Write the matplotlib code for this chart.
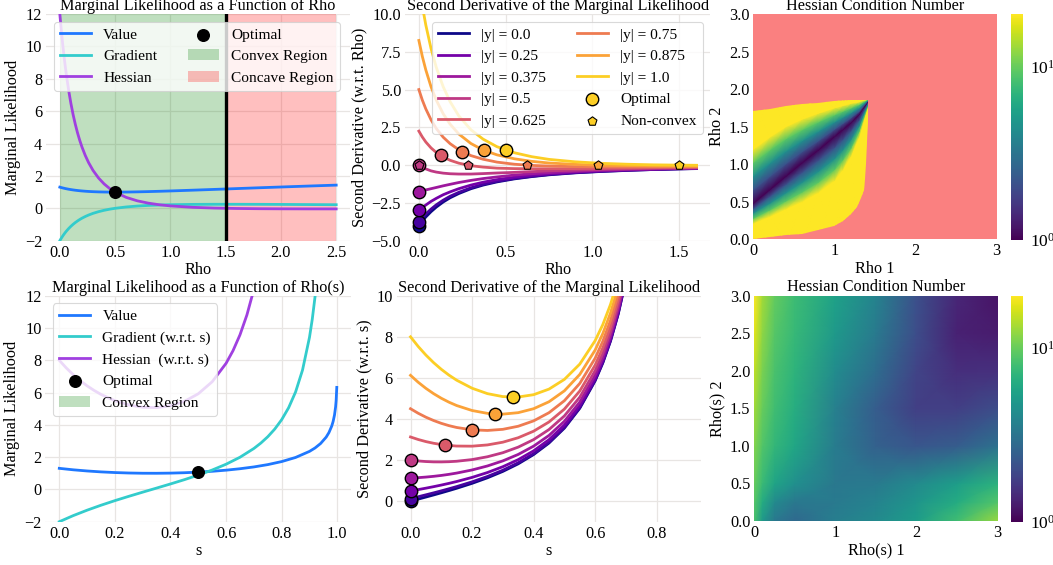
import numpy as np
import matplotlib
matplotlib.use('Agg')
import matplotlib.pyplot as plt
from matplotlib.colors import LogNorm
from matplotlib.patches import Patch, Polygon
from matplotlib.ticker import NullLocator

FS = 11.7
LFS = 11.1
plt.rcParams['font.family'] = ['Liberation Serif', 'DejaVu Serif']
plt.rcParams['font.size'] = FS
plt.rcParams['mathtext.fontset'] = 'stix'

# ---------------- data: top-left (marginal likelihood vs rho, |y| = 1) ----------------
rho_tl = [0, 0.01, 0.02, 0.03, 0.04, 0.05, 0.06, 0.08, 0.1, 0.12, 0.14, 0.16, 0.18, 0.2, 0.23,
          0.26, 0.3, 0.35, 0.4, 0.45, 0.5, 0.6, 0.7, 0.8, 0.9, 1.0, 1.2, 1.4, 1.6, 1.8, 2.0, 2.25, 2.5]
value_tl = [1.307, 1.287, 1.269, 1.252, 1.236, 1.22, 1.206, 1.179, 1.156, 1.135, 1.116, 1.1, 1.085,
            1.072, 1.055, 1.041, 1.027, 1.014, 1.006, 1.001, 1, 1.004, 1.016, 1.032, 1.051, 1.072,
            1.119, 1.168, 1.218, 1.268, 1.316, 1.375, 1.432]
grad_tl = [-2, -1.884, -1.775, -1.673, -1.578, -1.488, -1.403, -1.249, -1.111, -0.989, -0.879,
           -0.781, -0.692, -0.612, -0.507, -0.416, -0.312, -0.208, -0.123, -0.055, 0, 0.083, 0.139,
           0.178, 0.204, 0.222, 0.242, 0.249, 0.249, 0.246, 0.24, 0.231, 0.222]
hess_tl = [12, 11.232, 10.526, 9.874, 9.272, 8.715, 8.2, 7.278, 6.481, 5.79, 5.188, 4.661, 4.198,
           3.79, 3.265, 2.825, 2.344, 1.873, 1.509, 1.225, 1, 0.676, 0.463, 0.319, 0.219, 0.148,
           0.061, 0.015, -0.011, -0.025, -0.032, -0.036, -0.037]
opt_tl = (0.5, 1.0)
convex_tl = (0.0, 1.5)
concave_tl = (1.5, 2.5)
boundary_tl = 1.5

# ---------------- data: top-middle (second derivative wrt rho for several |y|) ----------------
abs_y = [0.0, 0.125, 0.25, 0.375, 0.5, 0.625, 0.75, 0.875, 1.0]
show_label = [True, False, True, True, True, True, True, True, True]
rho_tm = [0, 0.02, 0.04, 0.07, 0.1, 0.14, 0.18, 0.23, 0.3, 0.37, 0.45, 0.55, 0.65, 0.75, 0.9,
          1.05, 1.2, 1.35, 1.5, 1.6]
hess_tm = [
    [-4, -3.7, -3.43, -3.08, -2.78, -2.44, -2.16, -1.88, -1.56, -1.32, -1.11, -0.91, -0.76, -0.64, -0.51, -0.42, -0.35, -0.29, -0.25, -0.23],
    [-3.75, -3.48, -3.23, -2.91, -2.63, -2.32, -2.06, -1.8, -1.5, -1.27, -1.07, -0.88, -0.74, -0.62, -0.5, -0.41, -0.34, -0.29, -0.25, -0.22],
    [-3, -2.81, -2.64, -2.4, -2.2, -1.96, -1.77, -1.56, -1.32, -1.13, -0.96, -0.8, -0.67, -0.58, -0.46, -0.38, -0.32, -0.27, -0.23, -0.21],
    [-1.75, -1.7, -1.64, -1.56, -1.48, -1.37, -1.27, -1.15, -1.01, -0.89, -0.78, -0.66, -0.57, -0.5, -0.41, -0.34, -0.29, -0.25, -0.21, -0.2],
    [0, -0.14, -0.25, -0.38, -0.46, -0.53, -0.57, -0.59, -0.59, -0.56, -0.52, -0.48, -0.43, -0.38, -0.33, -0.28, -0.24, -0.21, -0.19, -0.17],
    [2.25, 1.86, 1.53, 1.14, 0.84, 0.54, 0.32, 0.13, -0.04, -0.13, -0.2, -0.23, -0.24, -0.24, -0.23, -0.21, -0.19, -0.17, -0.15, -0.14],
    [5, 4.3, 3.72, 3, 2.43, 1.85, 1.42, 1.02, 0.63, 0.39, 0.2, 0.06, -0.02, -0.06, -0.1, -0.11, -0.12, -0.11, -0.11, -0.11],
    [8.25, 7.19, 6.3, 5.19, 4.31, 3.4, 2.71, 2.06, 1.43, 1, 0.68, 0.42, 0.25, 0.14, 0.05, -0.01, -0.03, -0.05, -0.06, -0.06],
    [12, 10.53, 9.27, 7.72, 6.48, 5.19, 4.2, 3.26, 2.34, 1.72, 1.22, 0.82, 0.56, 0.38, 0.22, 0.12, 0.06, 0.02, 0, -0.01],
]
opt_rho_tm = [0, 0, 0, 0, 0, 0.125, 0.25, 0.375, 0.5]
opt_val_tm = [-4, -3.75, -3, -1.75, 0, 0.64, 0.889, 0.98, 1.0]
nonconvex_rho_tm = [None, None, None, None, 0.0, 0.281, 0.625, 1.031, 1.5]
nonconvex_val_tm = [None, None, None, None, 0, 0, 0, 0, 0]

# ---------------- data: top-right (Hessian condition number, log10 levels) ----------------
# columns of Rho 1, and for each log10(condition number) level the Rho 2 where it is reached
tr_cols = [0.0, 0.2, 0.4, 0.6, 0.8, 1.0, 1.1, 1.2, 1.3, 1.42]
tr_levels = [1.5, 1.3, 0.975, 0.65, 0.325, 0.0, 0.325, 0.65, 0.975, 1.3, 1.5]
tr_level_y = [
    [-0.05, -0.05, -0.05, -0.05, -0.05, -0.05, -0.05, -0.05, -0.05, -0.05],
    [0.21, 0.30, 0.40, 0.50, 0.62, 0.78, 0.92, 1.10, 1.35, 1.80],
    [0.28, 0.39, 0.51, 0.63, 0.76, 0.93, 1.055, 1.21, 1.43, 1.81],
    [0.35, 0.48, 0.62, 0.76, 0.905, 1.075, 1.19, 1.325, 1.505, 1.825],
    [0.41, 0.57, 0.73, 0.89, 1.05, 1.22, 1.325, 1.44, 1.58, 1.84],
    [0.48, 0.66, 0.84, 1.02, 1.19, 1.37, 1.46, 1.55, 1.66, 1.85],
    [0.66, 0.835, 1.005, 1.165, 1.31, 1.465, 1.54, 1.615, 1.70, 1.855],
    [0.84, 1.01, 1.17, 1.31, 1.435, 1.56, 1.62, 1.68, 1.745, 1.86],
    [1.02, 1.185, 1.335, 1.455, 1.56, 1.655, 1.70, 1.745, 1.79, 1.865],
    [1.20, 1.36, 1.50, 1.60, 1.68, 1.75, 1.78, 1.81, 1.83, 1.87],
    [1.95, 1.95, 1.95, 1.95, 1.95, 1.95, 1.95, 1.95, 1.95, 1.95],
]
# outline of the region where the Hessian is positive definite
pd_x = [0.0, 0.2, 0.4, 0.6, 0.8, 0.9, 1.0, 1.1, 1.2, 1.28, 1.33, 1.36, 1.38, 1.395, 1.40, 1.41,
        1.415, 1.41, 1.3, 1.2, 1.0, 0.8, 0.6, 0.4, 0.2, 0.0]
pd_y = [0.01, 0.03, 0.06, 0.07, 0.12, 0.15, 0.18, 0.24, 0.33, 0.43, 0.55, 0.65, 0.80, 1.0, 1.3,
        1.6, 1.78, 1.855, 1.855, 1.85, 1.84, 1.82, 1.80, 1.77, 1.74, 1.71]

# ---------------- data: bottom-left (marginal likelihood vs s) ----------------
s_value_bl = [0, 0.05, 0.1, 0.15, 0.2, 0.25, 0.3, 0.35, 0.4, 0.45, 0.5, 0.55, 0.6, 0.65, 0.7, 0.75,
              0.8, 0.85, 0.9, 0.92, 0.94, 0.96, 0.97, 0.98, 0.985, 0.99, 0.994, 0.996, 0.9982]
value_bl = [1.307, 1.216, 1.144, 1.087, 1.046, 1.018, 1.003, 1.001, 1.011, 1.035, 1.072, 1.124,
            1.193, 1.282, 1.394, 1.538, 1.726, 1.981, 2.357, 2.568, 2.845, 3.239, 3.522, 3.922,
            4.207, 4.61, 5.119, 5.523, 6.321]
s_grad_bl = [0, 0.05, 0.1, 0.15, 0.2, 0.25, 0.3, 0.35, 0.4, 0.45, 0.5, 0.55, 0.6, 0.65, 0.7, 0.725,
             0.75, 0.775, 0.8, 0.825, 0.85, 0.875, 0.9, 0.91, 0.92, 0.93, 0.94]
grad_bl = [-2, -1.623, -1.286, -0.979, -0.694, -0.427, -0.169, 0.084, 0.34, 0.605, 0.889, 1.202,
           1.562, 1.994, 2.537, 2.872, 3.265, 3.738, 4.321, 5.061, 6.038, 7.396, 9.418, 10.538,
           11.936, 13.73, 16.119]
s_hess_bl = [0, 0.025, 0.05, 0.075, 0.1, 0.125, 0.15, 0.2, 0.25, 0.3, 0.35, 0.4, 0.45, 0.5, 0.55,
             0.6, 0.625, 0.65, 0.675, 0.7, 0.725, 0.75]
hess_bl = [8, 7.529, 7.112, 6.743, 6.419, 6.135, 5.888, 5.498, 5.234, 5.09, 5.07, 5.183, 5.454,
           5.926, 6.67, 7.813, 8.597, 9.577, 10.813, 12.393, 14.446, 17.166]
opt_bl = (0.5, 1.072)

# ---------------- data: bottom-middle (second derivative wrt s) ----------------
s_bm = [0, 0.025, 0.05, 0.075, 0.1, 0.125, 0.15, 0.2, 0.25, 0.3, 0.35, 0.4, 0.45, 0.5, 0.55, 0.6,
        0.625, 0.65, 0.675, 0.7, 0.725, 0.75]
hess_bm = [
    [0, 0.1, 0.201, 0.303, 0.408, 0.516, 0.628, 0.868, 1.138, 1.449, 1.818, 2.268, 2.83, 3.556, 4.522, 5.859, 6.732, 7.796, 9.111, 10.765, 12.887, 15.673],
    [0.125, 0.216, 0.309, 0.404, 0.502, 0.604, 0.71, 0.94, 1.202, 1.506, 1.869, 2.313, 2.871, 3.593, 4.556, 5.89, 6.762, 7.824, 9.138, 10.791, 12.911, 15.697],
    [0.5, 0.564, 0.633, 0.706, 0.784, 0.867, 0.957, 1.157, 1.394, 1.677, 2.021, 2.45, 2.994, 3.704, 4.656, 5.981, 6.849, 7.907, 9.217, 10.867, 12.984, 15.767],
    [1.125, 1.145, 1.173, 1.209, 1.253, 1.306, 1.368, 1.519, 1.714, 1.961, 2.275, 2.678, 3.199, 3.889, 4.824, 6.134, 6.995, 8.046, 9.35, 10.994, 13.106, 15.883],
    [2, 1.957, 1.929, 1.913, 1.911, 1.921, 1.943, 2.025, 2.162, 2.359, 2.631, 2.996, 3.486, 4.148, 5.059, 6.348, 7.199, 8.241, 9.537, 11.172, 13.277, 16.047],
    [3.125, 3.002, 2.9, 2.819, 2.756, 2.711, 2.683, 2.677, 2.738, 2.871, 3.088, 3.406, 3.855, 4.481, 5.361, 6.622, 7.461, 8.492, 9.776, 11.401, 13.496, 16.257],
    [4.5, 4.279, 4.088, 3.926, 3.789, 3.676, 3.587, 3.472, 3.442, 3.497, 3.647, 3.908, 4.306, 4.889, 5.73, 6.958, 7.781, 8.798, 10.069, 11.681, 13.764, 16.513],
    [6.125, 5.788, 5.492, 5.234, 5.01, 4.818, 4.655, 4.413, 4.274, 4.237, 4.308, 4.5, 4.839, 5.37, 6.167, 7.355, 8.16, 9.159, 10.414, 12.012, 14.08, 16.816],
    [8, 7.529, 7.112, 6.743, 6.419, 6.135, 5.888, 5.498, 5.234, 5.09, 5.07, 5.183, 5.454, 5.926, 6.67, 7.813, 8.597, 9.577, 10.813, 12.393, 14.446, 17.166],
]
opt_s_bm = [0, 0, 0, 0, 0, 0.111, 0.2, 0.273, 0.333]
opt_val_bm = [0, 0.125, 0.5, 1.125, 2, 2.734, 3.472, 4.244, 5.062]

# ---------------- data: bottom-right (Hessian condition number wrt s, log10) ----------------
br_x = [0.0, 0.1, 0.25, 0.5, 1.0, 1.5, 2.0, 2.5, 3.0]
br_y = [0.0, 0.25, 0.5, 1.0, 1.5, 2.0, 2.5, 3.0]
br_log_cond = [
    [0.92, 0.70, 0.52, 0.44, 0.55, 0.62, 0.72, 0.90, 1.10],
    [0.96, 0.80, 0.62, 0.52, 0.53, 0.58, 0.68, 0.80, 0.95],
    [1.00, 0.88, 0.76, 0.65, 0.52, 0.53, 0.62, 0.72, 0.83],
    [1.06, 0.95, 0.86, 0.77, 0.54, 0.40, 0.35, 0.38, 0.48],
    [1.12, 1.00, 0.90, 0.81, 0.56, 0.38, 0.24, 0.24, 0.30],
    [1.18, 1.04, 0.93, 0.84, 0.63, 0.46, 0.26, 0.17, 0.18],
    [1.25, 1.08, 0.96, 0.87, 0.70, 0.53, 0.30, 0.12, 0.10],
    [1.30, 1.12, 0.99, 0.89, 0.74, 0.58, 0.32, 0.14, 0.07],
]

# ---------------- style ----------------
C_VALUE = '#1f78ff'
C_GRAD = '#33cccc'
C_HESS = '#a040e0'
GRID = '#e8e5e3'
PINK = '#fa8080'
TOP_PAD = 0.3
BOT_PAD = 3
cmap_lines = plt.get_cmap('plasma')


def style(ax, grid=True):
    for sp in ax.spines.values():
        sp.set_visible(False)
    ax.tick_params(length=0, labelsize=FS, pad=2.8)
    if grid:
        ax.grid(True, color=GRID, lw=0.9)
        ax.set_axisbelow(True)


def legend(ax, handles, **kw):
    lg = ax.legend(handles=handles, fontsize=LFS, framealpha=0.8, edgecolor='#d0d0d0', **kw)
    lg.get_frame().set_linewidth(0.8)
    return lg


def colorbar(fig, mappable, rect):
    cax = fig.add_axes(rect)
    cb = fig.colorbar(mappable, cax=cax)
    cb.outline.set_visible(False)
    cax.tick_params(length=0, labelsize=12.5, pad=5)
    cax.yaxis.set_minor_locator(NullLocator())
    return cb


fig = plt.figure(figsize=(10.53, 5.65), dpi=100)

# ---- top-left ----
ax = fig.add_axes([0.0437, 0.574, 0.2887, 0.4012])
style(ax)
sp1 = ax.axvspan(*convex_tl, color='green', alpha=0.25, lw=0, label='Convex Region')
sp2 = ax.axvspan(*concave_tl, color='red', alpha=0.25, lw=0, label='Concave Region')
l1, = ax.plot(rho_tl, value_tl, color=C_VALUE, lw=2, label='Value')
l2, = ax.plot(rho_tl, grad_tl, color=C_GRAD, lw=2, label='Gradient')
l3, = ax.plot(rho_tl, hess_tl, color=C_HESS, lw=2, label='Hessian')
ax.axvline(boundary_tl, color='black', lw=2.4)
so = ax.scatter([opt_tl[0]], [opt_tl[1]], s=70, color='black', zorder=4, label='Optimal')
ax.set_xlim(-0.125, 2.625)
ax.set_ylim(-2, 12)
ax.set_yticks([-2, 0, 2, 4, 6, 8, 10, 12])
ax.set_xticks([0.0, 0.5, 1.0, 1.5, 2.0, 2.5])
ax.set_xlabel('Rho', labelpad=1)
ax.set_ylabel('Marginal Likelihood', labelpad=3)
ax.set_title('Marginal Likelihood as a Function of Rho', fontsize=FS, pad=TOP_PAD)
legend(ax, [l1, l2, l3, so, sp1, sp2], ncol=2, loc='upper left')

# ---- top-middle ----
ax = fig.add_axes([0.3846, 0.574, 0.2901, 0.4012])
style(ax)
line_handles = []
opt_h = None
nc_h = None
for k, y in enumerate(abs_y):
    col = cmap_lines(0.9 * y)
    ln, = ax.plot(rho_tm, hess_tm[k], color=col, lw=2, label='|y| = %s' % y)
    if show_label[k]:
        line_handles.append(ln)
    opt_h = ax.scatter([opt_rho_tm[k]], [opt_val_tm[k]], s=80, color=col, edgecolor='black',
                       linewidth=1, zorder=3, label='Optimal')
    if nonconvex_rho_tm[k] is not None:
        nc_h = ax.scatter([nonconvex_rho_tm[k]], [nonconvex_val_tm[k]], s=45, marker='p',
                          color=col, edgecolor='black', linewidth=0.8, zorder=3,
                          label='Non-convex')
ax.set_xlim(-0.08, 1.68)
ax.set_ylim(-5, 10)
ax.set_yticks([-5, -2.5, 0, 2.5, 5, 7.5, 10])
ax.set_xticks([0.0, 0.5, 1.0, 1.5])
ax.set_xlabel('Rho', labelpad=1)
ax.set_ylabel('Second Derivative (w.r.t. Rho)', labelpad=3)
ax.set_title('Second Derivative of the Marginal Likelihood', fontsize=FS, pad=TOP_PAD)
legend(ax, line_handles + [opt_h, nc_h], ncol=2, loc='upper right')

# ---- top-right ----
ax = fig.add_axes([0.7154, 0.5765, 0.2311, 0.3988])
style(ax, grid=False)
ax.set_facecolor(PINK)
X = np.array([tr_cols for _ in tr_levels])
Y = np.array(tr_level_y)
C = np.array([[10.0 ** lv] * len(tr_cols) for lv in tr_levels])
qm = ax.pcolormesh(X, Y, C, shading='gouraud', cmap='viridis', norm=LogNorm(vmin=1, vmax=20))
clip = Polygon(np.column_stack([pd_x, pd_y]), closed=True, transform=ax.transData)
qm.set_clip_path(clip)
ax.set_xlim(0, 3)
ax.set_ylim(0, 3)
ax.set_xticks([0, 1, 2, 3])
ax.set_yticks([0.0, 0.5, 1.0, 1.5, 2.0, 2.5, 3.0])
ax.set_xlabel('Rho 1', labelpad=1)
ax.set_ylabel('Rho 2', labelpad=3)
ax.set_title('Hessian Condition Number', fontsize=FS, pad=TOP_PAD)
colorbar(fig, qm, [0.9601, 0.5752, 0.0111, 0.4])

# ---- bottom-left ----
ax = fig.add_axes([0.0431, 0.0766, 0.2904, 0.4])
style(ax)
l1, = ax.plot(s_value_bl, value_bl, color=C_VALUE, lw=2, label='Value')
l2, = ax.plot(s_grad_bl, grad_bl, color=C_GRAD, lw=2, label='Gradient (w.r.t. s)')
l3, = ax.plot(s_hess_bl, hess_bl, color=C_HESS, lw=2, label='Hessian  (w.r.t. s)')
so = ax.scatter([opt_bl[0]], [opt_bl[1]], s=70, color='black', zorder=4, label='Optimal')
conv = Patch(facecolor='green', alpha=0.25, label='Convex Region')
ax.set_xlim(-0.05, 1.05)
ax.set_ylim(-2, 12)
ax.set_yticks([-2, 0, 2, 4, 6, 8, 10, 12])
ax.set_xticks([0.0, 0.2, 0.4, 0.6, 0.8, 1.0])
ax.set_xlabel('s', labelpad=1)
ax.set_ylabel('Marginal Likelihood', labelpad=3)
ax.set_title('Marginal Likelihood as a Function of Rho(s)', fontsize=FS, pad=BOT_PAD)
legend(ax, [l1, l2, l3, so, conv], loc='upper left')

# ---- bottom-middle ----
ax = fig.add_axes([0.3767, 0.0766, 0.2893, 0.4])
style(ax)
for k, y in enumerate(abs_y):
    col = cmap_lines(0.9 * y)
    ax.plot(s_bm, hess_bm[k], color=col, lw=2)
    ax.scatter([opt_s_bm[k]], [opt_val_bm[k]], s=80, color=col, edgecolor='black',
               linewidth=1, zorder=3)
ax.set_xlim(-0.045, 0.945)
ax.set_ylim(-1, 10)
ax.set_yticks([0, 2, 4, 6, 8, 10])
ax.set_xticks([0.0, 0.2, 0.4, 0.6, 0.8])
ax.set_xlabel('s', labelpad=1)
ax.set_ylabel('Second Derivative (w.r.t. s)', labelpad=3)
ax.set_title('Second Derivative of the Marginal Likelihood', fontsize=FS, pad=BOT_PAD)

# ---- bottom-right ----
ax = fig.add_axes([0.7163, 0.0779, 0.2311, 0.3988])
style(ax, grid=False)
pm = ax.pcolormesh(br_x, br_y, np.power(10.0, np.array(br_log_cond)), shading='gouraud',
                   cmap='viridis', norm=LogNorm(vmin=1, vmax=20))
ax.set_xlim(0, 3)
ax.set_ylim(0, 3)
ax.set_xticks([0, 1, 2, 3])
ax.set_yticks([0.0, 0.5, 1.0, 1.5, 2.0, 2.5, 3.0])
ax.set_xlabel('Rho(s) 1', labelpad=1)
ax.set_ylabel('Rho(s) 2', labelpad=3)
ax.set_title('Hessian Condition Number', fontsize=FS, pad=BOT_PAD)
colorbar(fig, pm, [0.9601, 0.0766, 0.0114, 0.4])

fig.savefig('out.png', dpi=100)
